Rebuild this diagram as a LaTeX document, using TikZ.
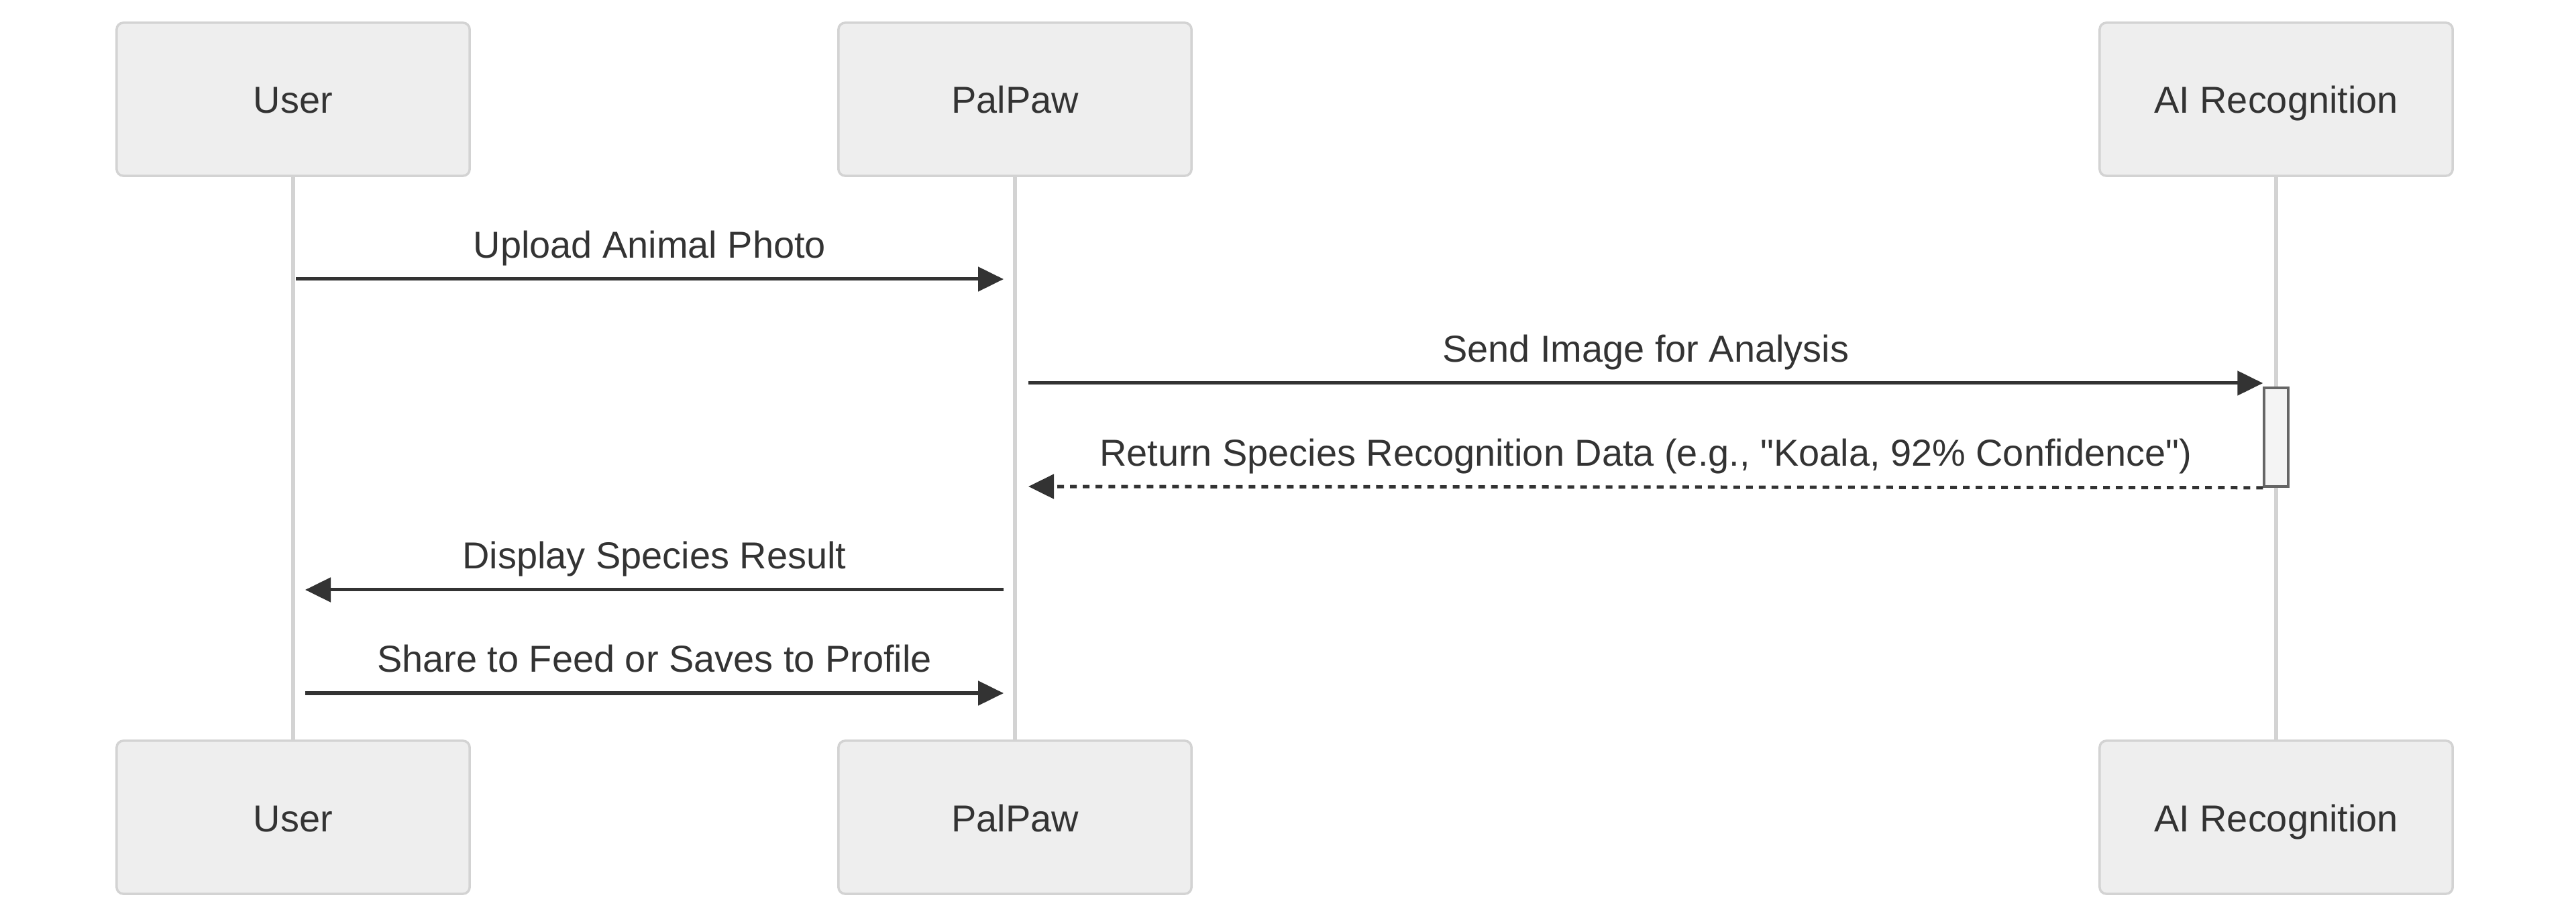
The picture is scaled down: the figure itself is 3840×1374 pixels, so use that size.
\documentclass[tikz,border=0pt]{standalone}
\usepackage{fontspec}
\setmainfont{Liberation Sans}[Ligatures=TeXOff]
\usepackage{tikz}
\usetikzlibrary{calc,arrows.meta}
\definecolor{txt}{HTML}{333333}
\definecolor{boxfill}{HTML}{EEEEEE}
\definecolor{boxline}{HTML}{D3D3D3}
\definecolor{actfill}{HTML}{F4F4F4}
\definecolor{actline}{HTML}{666666}
\begin{document}
\begin{tikzpicture}[x=0.01cm,y=-0.01cm]
                      \tikzstyle{actor}=[rectangle,rounded corners=0.1cm,draw=boxline,line width=0.035cm,fill=boxfill,text=txt,minimum width=5.26cm,minimum height=2.28cm,inner sep=0pt,text height=0.42cm,text depth=0pt,font=\fontsize{15.9pt}{19pt}\selectfont]
                      \tikzstyle{life}=[draw=boxline,line width=0.055cm]
                      \tikzstyle{msg}=[draw=txt,line width=0.05cm,-{Triangle[length=0.38cm,width=0.36cm]}]
                      \tikzstyle{lbl}=[anchor=base,yshift=0.31cm,text=txt,inner sep=0pt,font=\fontsize{15.9pt}{19pt}\selectfont]
                      \useasboundingbox (0,0) rectangle (3840,1374);
                      \node[actor] (ut) at (437,148) {User};
                      \node[actor] (pt) at (1513,148) {PalPaw};
                      \node[actor] (at) at (3393,148) {AI Recognition};
                      \node[actor] (ub) at (437,1218) {User};
                      \node[actor] (pb) at (1513,1218) {PalPaw};
                      \node[actor] (ab) at (3393,1218) {AI Recognition};
                      \draw[life] (ut.south) -- (ub.north);
                      \draw[life] (pt.south) -- (pb.north);
                      \draw[life] (at.south) -- (ab.north);
                      \node[rectangle,draw=actline,line width=0.035cm,fill=actfill,minimum width=0.36cm,minimum height=1.47cm,inner sep=0pt] (act) at (3393,651.5) {};
                      \coordinate (u1) at (441,416);
                      \coordinate (p1) at (1496,416);
                      \coordinate (p2) at (1533,571);
                      \coordinate (a2) at (act.west |- p2);
                      \coordinate (a3) at (act.south west);
                      \coordinate (p3) at (1533,725);
                      \coordinate (p4) at (1496,879);
                      \coordinate (u4) at (455,879);
                      \coordinate (u5) at (455,1033);
                      \coordinate (p5) at (1496,1033);
                      \draw[msg] (u1) -- (p1) node[lbl,midway] (l1) {Upload Animal Photo};
                      \draw[msg] (p2) -- (a2) node[lbl,midway] (l2) {Send Image for Analysis};
                      \draw[msg,dash pattern=on 0.1cm off 0.09cm] (a3) -- (p3) node[lbl,midway] (l3) {Return Species Recognition Data (e.g., "Koala, 92\% Confidence")};
                      \draw[msg] (p4) -- (u4) node[lbl,midway] (l4) {Display Species Result};
                      \draw[msg] (u5) -- (p5) node[lbl,midway] (l5) {Share to Feed or Saves to Profile};
                  \end{tikzpicture}
\end{document}
